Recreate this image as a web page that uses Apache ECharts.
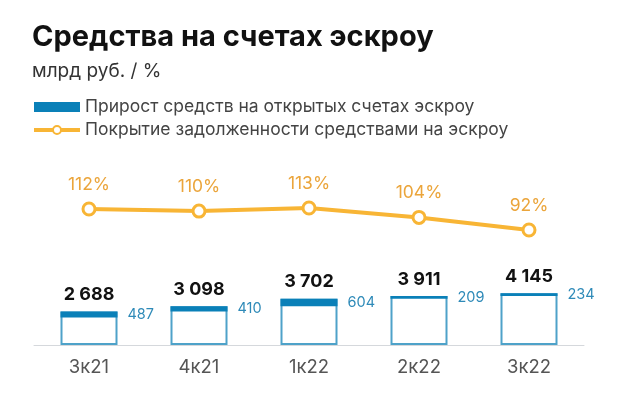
<!DOCTYPE html>
<html><head><meta charset="utf-8">
<script src="https://cdn.jsdelivr.net/npm/echarts@6/dist/echarts.min.js"></script>
<style>html,body{margin:0;padding:0;background:#fff}#c{width:618px;height:398px}</style>
</head><body><div id="c"></div>
<script>
const categories = ['3к21','4к21','1к22','2к22','3к22'];
const totals = [2688, 3098, 3702, 3911, 4145];
const increments = [487, 410, 604, 209, 234];
const coverage = [112, 110, 113, 104, 92];

const fmt = v => String(v).replace(/\B(?=(\d{3})+(?!\d))/g, ' ');
const FONT = 'Inter, "Open Sans", sans-serif';

const chart = echarts.init(document.getElementById('c'), null, {renderer:'canvas'});
chart.setOption({
  animation:false,
  backgroundColor:'#fff',
  textStyle:{fontFamily:FONT},
  title:[
    {text:'Средства на счетах эскроу', left:27, top:18, textStyle:{fontSize:29, fontWeight:'bold', color:'#111', fontFamily:FONT}},
    {text:'млрд руб. / %', left:27, top:57, textStyle:{fontSize:19, fontWeight:'normal', color:'#333', fontFamily:FONT}}
  ],
  legend:{
    orient:'vertical', left:27, top:93, itemWidth:46, itemHeight:10, itemGap:5,
    textStyle:{fontSize:17.5, color:'#444', fontFamily:FONT},
    data:[
      {name:'Прирост средств на открытых счетах эскроу', icon:'rect'},
      {name:'Покрытие задолженности средствами на эскроу', lineStyle:{width:4}}
    ]
  },
  grid:[
    {left:34, right:34, top:245, height:100, containLabel:false},
    {left:34, right:34, top:200.6, height:42, containLabel:false}
  ],
  xAxis:[
    {type:'category', data:categories, gridIndex:0,
     axisLine:{lineStyle:{color:'#d5d8dc', width:1}}, axisTick:{show:false},
     axisLabel:{fontSize:18.5, color:'#555', margin:13, fontFamily:FONT}},
    {type:'category', data:categories, gridIndex:1, show:false}
  ],
  yAxis:[
    {type:'value', gridIndex:0, min:0, max:8000, show:false, splitLine:{show:false}},
    {type:'value', gridIndex:1, min:80, max:120, show:false, splitLine:{show:false}}
  ],
  series:[
    {name:'total', type:'bar', xAxisIndex:0, yAxisIndex:0, barWidth:57, barGap:'-100%', z:2,
     data:totals,
     itemStyle:{color:'#fff', borderColor:'#4ea2c9', borderWidth:2},
     label:{show:true, position:'top', distance:8, formatter:p=>fmt(p.value), fontSize:18, fontWeight:'bold', color:'#111', fontFamily:FONT}},
    {name:'base', type:'bar', stack:'s', xAxisIndex:0, yAxisIndex:0, barWidth:57, z:3,
     data:totals.map((t,i)=>t-increments[i]),
     itemStyle:{color:'rgba(0,0,0,0)'}, silent:true},
    {name:'Прирост средств на открытых счетах эскроу', type:'bar', stack:'s', xAxisIndex:0, yAxisIndex:0, barWidth:57, z:3,
     data:increments,
     itemStyle:{color:'#0a80b8'},
     label:{show:true, position:'right', distance:10, formatter:p=>fmt(p.value), fontSize:14.5, color:'#2e8ab8', fontFamily:FONT}},
    {name:'Покрытие задолженности средствами на эскроу', type:'line', xAxisIndex:1, yAxisIndex:1, z:5,
     data:coverage,
     symbol:'circle', symbolSize:12,
     lineStyle:{color:'#f8b535', width:4},
     itemStyle:{color:'#fff', borderColor:'#f8b535', borderWidth:3},
     label:{show:true, position:'top', distance:8, formatter:p=>p.value+'%', fontSize:17.5, color:'#eba53b', fontFamily:FONT}}
  ]
});
</script></body></html>
